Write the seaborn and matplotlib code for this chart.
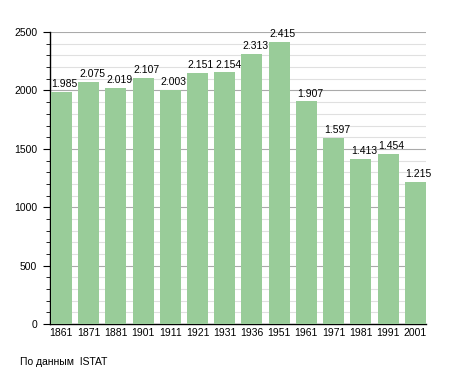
import matplotlib
matplotlib.use("Agg")
import matplotlib.pyplot as plt
from matplotlib.ticker import MultipleLocator
import seaborn as sns
import pandas as pd

years = ["1861", "1871", "1881", "1901", "1911", "1921", "1931",
         "1936", "1951", "1961", "1971", "1981", "1991", "2001"]
population = [1985, 2075, 2019, 2107, 2003, 2151, 2154,
              2313, 2415, 1907, 1597, 1413, 1454, 1215]
source_note = "По данным  ISTAT"

df = pd.DataFrame({"year": years, "pop": population})

sns.set_style("white")
plt.rcParams["font.family"] = ["Liberation Sans", "DejaVu Sans"]
plt.rcParams["text.color"] = "black"
plt.rcParams["xtick.color"] = "black"
plt.rcParams["ytick.color"] = "black"

fig = plt.figure(figsize=(4.55, 3.73), dpi=100)
ax = fig.add_axes([0.110, 0.131, 0.826, 0.783])

sns.barplot(data=df, x="year", y="pop", color="#99cc99", saturation=1,
            width=0.77, edgecolor="none", linewidth=0, ax=ax, zorder=3)

ax.set_ylim(0, 2500)
ax.set_xlim(-0.415, len(years) - 1 + 0.39)
ax.yaxis.set_major_locator(MultipleLocator(500))
ax.yaxis.set_minor_locator(MultipleLocator(100))
ax.grid(which="major", axis="y", color="#aaaaaa", linewidth=0.8, zorder=0)
ax.grid(which="minor", axis="y", color="#e0e0e0", linewidth=0.8, zorder=0)
ax.set_axisbelow(True)

for s in ["top", "right"]:
    ax.spines[s].set_visible(False)
for s in ["left", "bottom"]:
    ax.spines[s].set_color("black")
    ax.spines[s].set_linewidth(1.0)

ax.tick_params(axis="y", which="major", length=5, width=0.8, labelsize=7.5,
               pad=4.3, left=True, colors="black")
ax.tick_params(axis="y", which="minor", length=3, width=0.6, left=True, colors="black")
ax.tick_params(axis="x", length=0, labelsize=7.5, pad=3, colors="black")
ax.set_xlabel("")
ax.set_ylabel("")

# value labels sit slightly right of bar centre, like the original
for i, v in enumerate(population):
    label = f"{v:,}".replace(",", ".")
    ax.annotate(label, (i, v), xytext=(2.5, 2), textcoords="offset points",
                ha="center", va="bottom", fontsize=7.5, color="black", zorder=4)

fig.text(20 / 455, 1 - 362 / 373, source_note, fontsize=7.5, va="center",
         ha="left", color="black")

fig.savefig("out.png", dpi=100)
